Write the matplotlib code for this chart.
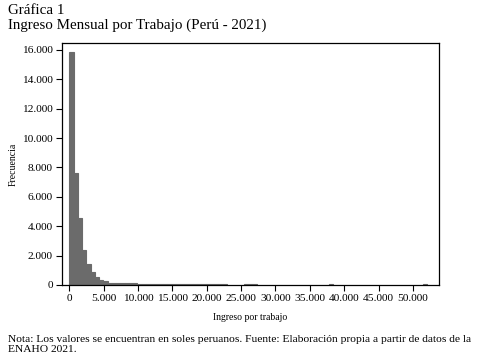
import numpy as np
import matplotlib
matplotlib.use("Agg")
import matplotlib.pyplot as plt
from matplotlib.ticker import FuncFormatter

# bin width (soles) and counts per bin
bin_width = 620
counts = [15840, 7650, 4580, 2380, 1430, 885, 520, 340, 250,
          # long thin tail up to ~23.000
          130, 125, 120, 115, 110, 110, 105, 100, 100, 95,
          95, 90, 90, 85, 85, 80, 80, 80, 75, 75,
          70, 70, 70, 65, 65, 60, 60, 60,
          # gap, then a few isolated bars
          0, 0, 0, 0,
          45, 45, 45,
          0, 0, 0, 0, 0, 0, 0, 0, 0, 0, 0, 0, 0, 0, 0, 0, 0,
          40,
          0, 0, 0, 0, 0, 0, 0, 0, 0, 0, 0, 0, 0, 0, 0, 0, 0, 0, 0, 0, 0,
          40]
xticks = [0, 5000, 10000, 15000, 20000, 25000, 30000, 35000, 40000, 45000, 50000]
yticks = [0, 2000, 4000, 6000, 8000, 10000, 12000, 14000, 16000]

plt.rcParams['font.family'] = ['Liberation Serif', 'DejaVu Serif']

edges = np.arange(len(counts)) * bin_width

fig = plt.figure(figsize=(4.8, 3.56), dpi=100)
ax = fig.add_axes([62/480, 1 - 285/356, (439-62)/480, (285-43)/356])

h = np.array(counts, dtype=float)
ax.bar(edges[h > 0], h[h > 0], width=bin_width, align='edge',
       color='#6b6b6b', edgecolor='#6b6b6b', linewidth=0.8)

thousands = FuncFormatter(lambda v, p: f"{int(v):,}".replace(",", "."))
ax.set_xticks(xticks)
ax.set_yticks(yticks)
ax.xaxis.set_major_formatter(thousands)
ax.yaxis.set_major_formatter(thousands)
ax.set_xlim(-1060, 53800)
ax.set_ylim(0, 16470)
ax.tick_params(direction='out', length=4, width=0.8, labelsize=8.2, pad=2.5)
for s in ax.spines.values():
    s.set_linewidth(0.9)

ax.set_xlabel('Ingreso por trabajo', fontsize=7)
ax.xaxis.set_label_coords(0.5, -0.115)
ax.set_ylabel('Frecuencia', fontsize=7)
ax.yaxis.set_label_coords(-0.117, 0.5)

fig.text(8/480, 1 - 10.5/356, 'Gráfica 1', fontsize=10.8, va='center')
fig.text(8/480, 1 - 25.5/356, 'Ingreso Mensual por Trabajo (Perú - 2021)', fontsize=10.8, va='center')
fig.text(8/480, 1 - 340/356,
         'Nota: Los valores se encuentran en soles peruanos. Fuente: Elaboración propia a partir de datos de la',
         fontsize=8.25, va='center')
fig.text(8/480, 1 - 350/356, 'ENAHO 2021.', fontsize=8.25, va='center')

fig.savefig('out.png', dpi=100)
